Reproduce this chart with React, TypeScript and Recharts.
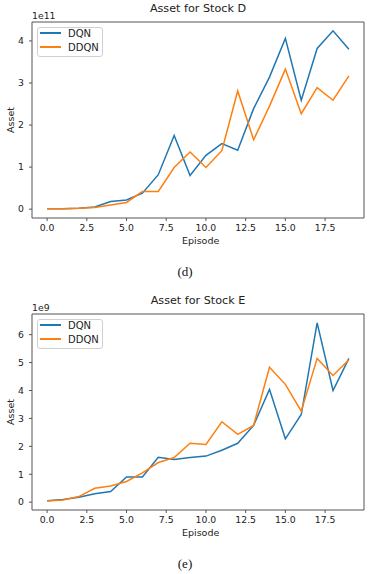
import React from "react"
import { LineChart, Line, XAxis, YAxis, ReferenceLine } from "recharts"

const episodes = [0, 1, 2, 3, 4, 5, 6, 7, 8, 9, 10, 11, 12, 13, 14, 15, 16, 17, 18, 19]
const xTicks = [0, 2.5, 5, 7.5, 10, 12.5, 15, 17.5]
const xDomain: [number, number] = [-0.95, 19.95]

// stock D, in units of 1e11
const dqnD = [0.01, 0.01, 0.02, 0.05, 0.18, 0.22, 0.38, 0.82, 1.75, 0.8, 1.28, 1.56, 1.4, 2.39, 3.14, 4.06, 2.59, 3.82, 4.24, 3.8]
const ddqnD = [0.01, 0.01, 0.02, 0.04, 0.1, 0.16, 0.42, 0.42, 0.99, 1.36, 0.99, 1.39, 2.81, 1.65, 2.45, 3.33, 2.27, 2.89, 2.59, 3.17]
const yTicksD = [0, 1, 2, 3, 4]

// stock E, in units of 1e9
const dqnE = [0.05, 0.1, 0.18, 0.3, 0.38, 0.9, 0.9, 1.61, 1.53, 1.6, 1.65, 1.86, 2.11, 2.75, 4.04, 2.27, 3.14, 6.42, 4.0, 5.15]
const ddqnE = [0.04, 0.08, 0.2, 0.5, 0.58, 0.74, 1.05, 1.42, 1.6, 2.11, 2.07, 2.88, 2.43, 2.75, 4.83, 4.22, 3.26, 5.15, 4.54, 5.1]
const yTicksE = [0, 1, 2, 3, 4, 5, 6]

const BLUE = "#1f77b4"
const ORANGE = "#ff7f0e"
const SPINE = "#555"
const FONT = "DejaVu Sans"

const tickStyle = { fontFamily: FONT, fontSize: 9.3, fill: "#222" }

type PanelProps = {
  top: number
  marginTop: number
  title: string
  offsetText: string
  dqn: number[]
  ddqn: number[]
  yTicks: number[]
  yDomain: [number, number]
  caption: string
}

function Panel({ top, marginTop, title, offsetText, dqn, ddqn, yTicks, yDomain, caption }: PanelProps) {
  const data = episodes.map((ep, i) => ({ ep, dqn: dqn[i], ddqn: ddqn[i] }))
  const height = marginTop + 196 + 32
  const plotTop = top + marginTop
  const plotBottom = plotTop + 196
  const text: React.CSSProperties = { position: "absolute", fontFamily: FONT, color: "#222", whiteSpace: "nowrap" }

  return (
    <>
      <div style={{ position: "absolute", left: 0, top }}>
        <LineChart width={370} height={height} data={data} margin={{ top: marginTop, right: 6, left: 0, bottom: 0 }}>
          <XAxis
            dataKey="ep"
            type="number"
            domain={xDomain}
            ticks={xTicks}
            tickFormatter={(v: number) => v.toFixed(1)}
            allowDataOverflow
            height={32}
            tick={tickStyle}
            tickSize={3}
            tickMargin={3}
            stroke={SPINE}
            interval={0}
          />
          <YAxis
            type="number"
            domain={yDomain}
            ticks={yTicks}
            allowDataOverflow
            width={32}
            tick={tickStyle}
            tickSize={3}
            tickMargin={5}
            stroke={SPINE}
            interval={0}
          />
          {/* top and right spines */}
          <ReferenceLine y={yDomain[1]} stroke={SPINE} strokeWidth={1} ifOverflow="extendDomain" />
          <ReferenceLine x={xDomain[1]} stroke={SPINE} strokeWidth={1} ifOverflow="extendDomain" />
          <Line type="linear" dataKey="dqn" stroke={BLUE} strokeWidth={1.5} dot={false} isAnimationActive={false} />
          <Line type="linear" dataKey="ddqn" stroke={ORANGE} strokeWidth={1.5} dot={false} isAnimationActive={false} />
        </LineChart>
      </div>
      <div style={{ ...text, left: 32, width: 332, textAlign: "center", top: plotTop - 20, fontSize: 11.2 }}>{title}</div>
      <div style={{ ...text, left: 32, top: plotTop - 12, fontSize: 9.3 }}>{offsetText}</div>
      <div style={{ ...text, left: 182, width: 32, textAlign: "center", top: plotBottom + 17, fontSize: 9.5 }}>Episode</div>
      <div
        style={{
          ...text,
          left: 9.5,
          top: (plotTop + plotBottom) / 2,
          fontSize: 9.5,
          transform: "translate(-50%, -50%) rotate(-90deg)",
        }}
      >
        Asset
      </div>
      <div
        style={{
          position: "absolute",
          left: 37,
          top: plotTop + 5,
          width: 64,
          height: 28,
          border: "1px solid #d0d0d0",
          borderRadius: 3,
          background: "rgba(255,255,255,0.8)",
        }}
      >
        {[
          { name: "DQN", color: BLUE },
          { name: "DDQN", color: ORANGE },
        ].map((it, i) => (
          <div key={it.name} style={{ position: "absolute", left: 2, top: 5 + i * 14.4 - 6, height: 12, display: "flex", alignItems: "center" }}>
            <div style={{ width: 21, height: 2, background: it.color }} />
            <span style={{ marginLeft: 7, fontFamily: FONT, fontSize: 10, color: "#222" }}>{it.name}</span>
          </div>
        ))}
      </div>
      <div style={{ ...text, left: 0, width: 370, textAlign: "center", top: plotBottom + 46, fontFamily: "Liberation Serif", fontSize: 13, color: "#111" }}>
        {caption}
      </div>
    </>
  )
}

export default function App() {
  return (
    <div style={{ position: "absolute", left: 0, top: 0, width: 370, height: 574, background: "#fff", overflow: "hidden" }}>
      <Panel top={0} marginTop={22} title="Asset for Stock D" offsetText="1e11" dqn={dqnD} ddqn={ddqnD} yTicks={yTicksD} yDomain={[-0.21, 4.45]} caption="(d)" />
      <Panel top={290} marginTop={24} title="Asset for Stock E" offsetText="1e9" dqn={dqnE} ddqn={ddqnE} yTicks={yTicksE} yDomain={[-0.28, 6.74]} caption="(e)" />
    </div>
  )
}
